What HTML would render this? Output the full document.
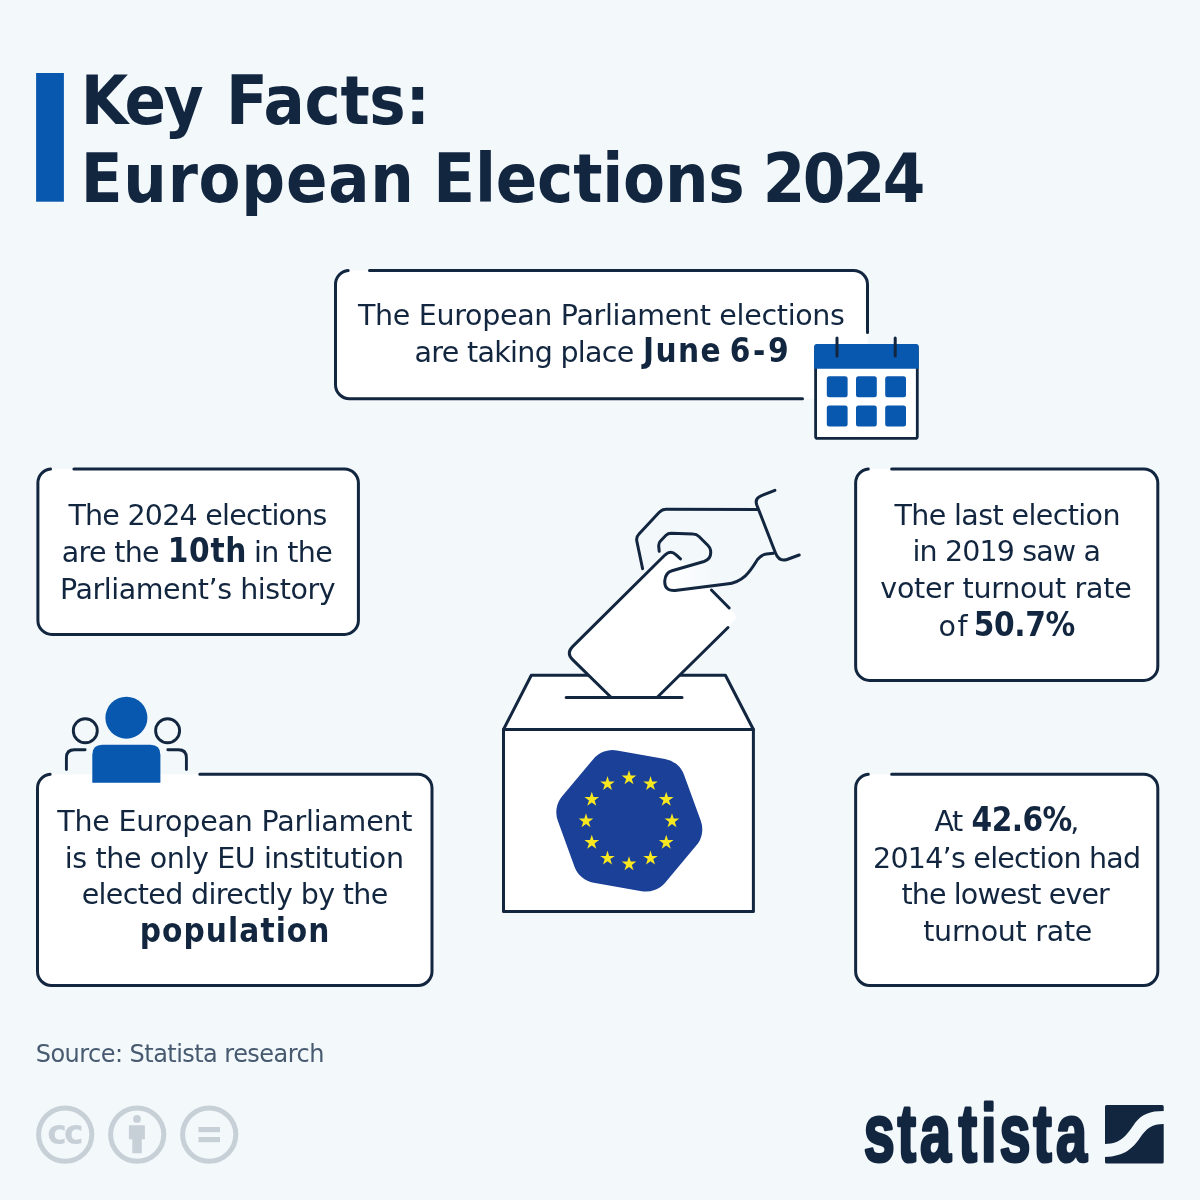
<!DOCTYPE html>
<html lang="en"><head><meta charset="utf-8"><title>Key Facts: European Elections 2024</title>
<style>
html,body{margin:0;padding:0;background:#f3f8fb;}
body{width:1200px;height:1200px;overflow:hidden;position:relative;}
svg{position:absolute;left:0;top:0;display:block;}
text{font-family:"DejaVu Sans","Liberation Sans",sans-serif;fill:#12263f;}
.kt,.kc,.kb{font-family:"DejaVu Sans Condensed","DejaVu Sans","Liberation Sans",sans-serif;font-weight:700;}
.ks{fill:#475a70;}
.box{fill:none;stroke:#12263f;stroke-width:3;stroke-linecap:round;}
.ln{fill:none;stroke:#12263f;stroke-width:3;stroke-linecap:round;stroke-linejoin:round;}
</style></head><body>
<svg width="1200" height="1200" viewBox="0 0 1200 1200">
<rect width="1200" height="1200" fill="#f3f8fb"/>

<rect x="36.1" y="73" width="27.8" height="128.7" fill="#0758ae"/>
<rect x="335.5" y="270.5" width="532.00" height="128.20" rx="14" fill="#fff"/>
<rect x="37.9" y="469.0" width="320.50" height="165.40" rx="14" fill="#fff"/>
<rect x="37.5" y="774.25" width="394.50" height="211.25" rx="14" fill="#fff"/>
<rect x="855.65" y="469.0" width="302.15" height="211.40" rx="14" fill="#fff"/>
<rect x="855.65" y="774.25" width="302.15" height="211.25" rx="14" fill="#fff"/>
<path class="box" d="M369.50,270.5 H853.50 A14,14 0 0 1 867.5,284.50 V332.4 M802.5,398.7 H349.50 A14,14 0 0 1 335.5,384.70 V284.50 A14,14 0 0 1 348.10,270.57"/>
<path class="box" d="M73.90,469.0 H344.40 A14,14 0 0 1 358.4,483.00 V620.40 A14,14 0 0 1 344.40,634.4 H51.90 A14,14 0 0 1 37.9,620.40 V483.00 A14,14 0 0 1 50.50,469.07"/>
<path class="box" d="M891.65,469.0 H1143.80 A14,14 0 0 1 1157.8,483.00 V666.40 A14,14 0 0 1 1143.80,680.4 H869.65 A14,14 0 0 1 855.65,666.40 V483.00 A14,14 0 0 1 868.25,469.07"/>
<path class="box" d="M891.65,774.25 H1143.80 A14,14 0 0 1 1157.8,788.25 V971.50 A14,14 0 0 1 1143.80,985.5 H869.65 A14,14 0 0 1 855.65,971.50 V788.25 A14,14 0 0 1 868.25,774.32"/>
<path class="box" d="M199.80,774.25 H418.00 A14,14 0 0 1 432.0,788.25 V971.50 A14,14 0 0 1 418.00,985.5 H51.50 A14,14 0 0 1 37.5,971.50 V788.25 A14,14 0 0 1 50.10,774.32"/>
<g>
<rect x="815.6" y="346" width="101.7" height="92.4" rx="2" fill="#fff" stroke="#12263f" stroke-width="2.8"/>
<path d="M814.2,368.8 V346.5 Q814.2,344 816.7,344 H916.2 Q918.7,344 918.7,346.5 V368.8 Z" fill="#0758ae"/>
<path class="ln" d="M837,338 V356 M895.2,338 V356"/>
<g fill="#0758ae">
<rect x="826.8" y="376.2" width="20.8" height="21" rx="2.5"/><rect x="856" y="376.2" width="20.8" height="21" rx="2.5"/><rect x="885.2" y="376.2" width="20.8" height="21" rx="2.5"/>
<rect x="826.8" y="405.6" width="20.8" height="21" rx="2.5"/><rect x="856" y="405.6" width="20.8" height="21" rx="2.5"/><rect x="885.2" y="405.6" width="20.8" height="21" rx="2.5"/>
</g></g>
<g>
<circle cx="126.4" cy="717.7" r="21" fill="#0758ae"/>
<path d="M92.3,782.8 V754.7 Q92.3,744.7 102.3,744.7 H150.4 Q160.4,744.7 160.4,754.7 V782.8 Z" fill="#0758ae"/>
<g class="ln" style="stroke-width:2.9">
<circle cx="85.3" cy="730.7" r="12"/>
<circle cx="167.6" cy="730.7" r="12"/>
<path d="M85.1,749.8 H74.4 Q66.4,749.8 66.4,757.8 V769.5"/>
<path d="M167.8,749.8 H178.4 Q186.4,749.8 186.4,757.8 V769.5"/>
</g></g>
<g>
<path d="M503.5,729.5 L531.3,675.2 H725.4 L753.4,729.5 Z" class="ln" style="fill:#fff"/>
<rect x="503.5" y="729.5" width="249.9" height="182" class="ln" style="fill:#fff"/>
<path d="M657.3,697.5 L728.5,627 L737,617.5 L729.5,608 L676,554.5 Q670.6,549.8 665.2,554.8 L572.8,646.3 Q565.9,652.9 572.6,659.6 L611,697.5 Z" fill="#fff"/>
<path class="ln" d="M566.2,697.6 H682"/>
<path class="ln" d="M611,697.3 L572.6,659.6 Q565.9,652.9 572.8,646.3 L665.2,554.8 Q670.6,549.8 676.1,554.8 L680.5,558.9"/>
<path class="ln" d="M657.3,697.3 L728,627.5"/>
<path class="ln" d="M711.4,590 L729.2,608"/>

<linearGradient id="tg" gradientUnits="userSpaceOnUse" x1="668" y1="0" x2="715" y2="0"><stop offset="0" stop-color="#fff"/><stop offset="1" stop-color="#f3f8fb"/></linearGradient>
<path fill="url(#tg)" d="M672,570.7 L704,561.5 L740,556 L747,572 C742,581 735,583.5 726.5,584 L675,590.5 Q664,591 664.8,580.5 Q665.5,572.5 672,570.7 Z"/>
<path class="ln" d="M642.6,568.7 L636.8,541 Q636,537 639,534 L659,512.5 Q662,509.3 666,509.3 L757.5,509.5"/>
<path class="ln" d="M774.9,490.3 L761,495.8 Q754.8,498.5 756.6,504.5 L775.5,553 Q779,562 787,559.5 L799.2,555"/>
<path class="ln" d="M773.5,553.2 L766.5,554 Q761.5,554.5 757.5,559.5 C752,568 745,582.5 726.5,584 L675,590.5 Q664,591 664.8,580.5 Q665.5,572.5 672,570.7 L704,561.5 Q712,559 710.5,550 Q710,547.5 708,545.5 L699,536.5 Q696.5,534 693,534 L671,533.3 Q668,533.3 666,535.3 L660.5,541 Q658.5,543 658.7,546 L659.2,551.3"/>
</g>
<polygon points="677.3,829.3 646.0,866.6 598.0,858.1 581.3,812.3 612.6,775.0 660.6,783.5" fill="#1b4097" stroke="#1b4097" stroke-width="50" stroke-linejoin="round"/>
<g fill="#f9e81f"><polygon points="629.0,770.3 630.7,775.6 636.3,775.6 631.8,778.9 633.5,784.2 629.0,780.9 624.5,784.2 626.2,778.9 621.7,775.6 627.3,775.6"/><polygon points="650.5,776.1 652.2,781.4 657.8,781.4 653.3,784.7 655.0,790.0 650.5,786.7 646.0,790.0 647.7,784.7 643.2,781.4 648.8,781.4"/><polygon points="666.2,791.8 668.0,797.1 673.6,797.1 669.0,800.4 670.8,805.7 666.2,802.4 661.7,805.7 663.4,800.4 658.9,797.1 664.5,797.1"/><polygon points="672.0,813.3 673.7,818.6 679.3,818.6 674.8,821.9 676.5,827.2 672.0,823.9 667.5,827.2 669.2,821.9 664.7,818.6 670.3,818.6"/><polygon points="666.2,834.8 668.0,840.1 673.6,840.1 669.0,843.4 670.8,848.7 666.2,845.4 661.7,848.7 663.4,843.4 658.9,840.1 664.5,840.1"/><polygon points="650.5,850.5 652.2,855.9 657.8,855.9 653.3,859.1 655.0,864.5 650.5,861.2 646.0,864.5 647.7,859.1 643.2,855.9 648.8,855.9"/><polygon points="629.0,856.3 630.7,861.6 636.3,861.6 631.8,864.9 633.5,870.2 629.0,866.9 624.5,870.2 626.2,864.9 621.7,861.6 627.3,861.6"/><polygon points="607.5,850.5 609.2,855.9 614.8,855.9 610.3,859.1 612.0,864.5 607.5,861.2 603.0,864.5 604.7,859.1 600.2,855.9 605.8,855.9"/><polygon points="591.8,834.8 593.5,840.1 599.1,840.1 594.6,843.4 596.3,848.7 591.8,845.4 587.2,848.7 589.0,843.4 584.4,840.1 590.0,840.1"/><polygon points="586.0,813.3 587.7,818.6 593.3,818.6 588.8,821.9 590.5,827.2 586.0,823.9 581.5,827.2 583.2,821.9 578.7,818.6 584.3,818.6"/><polygon points="591.8,791.8 593.5,797.1 599.1,797.1 594.6,800.4 596.3,805.7 591.8,802.4 587.2,805.7 589.0,800.4 584.4,797.1 590.0,797.1"/><polygon points="607.5,776.1 609.2,781.4 614.8,781.4 610.3,784.7 612.0,790.0 607.5,786.7 603.0,790.0 604.7,784.7 600.2,781.4 605.8,781.4"/></g>
<text y="123.5"><tspan class="kt" x="80.80" style="font-size:68px;letter-spacing:-2.400px;">Key</tspan> <tspan class="kt" x="225.90" style="font-size:68px;letter-spacing:-0.280px;">Facts:</tspan></text>
<text y="201.7"><tspan class="kt" x="80.80" style="font-size:68px;letter-spacing:0.743px;">European</tspan> <tspan class="kt" x="433.30" style="font-size:68px;letter-spacing:-0.163px;">Elections</tspan> <tspan class="kt" x="762.80" style="font-size:68px;letter-spacing:-2.600px;">2024</tspan></text>
<text y="325.3"><tspan class="kr" x="358.00" style="font-size:28.5px;letter-spacing:-0.312px;">The European Parliament elections</tspan></text>
<text y="362.2"><tspan class="kr" x="414.60" style="font-size:28.5px;letter-spacing:-0.690px;">are taking place</tspan> <tspan class="kb" x="643.00" style="font-size:33px;letter-spacing:1.400px;">June</tspan> <tspan class="kb" x="729.80" style="font-size:33px;letter-spacing:2.600px;">6-9</tspan></text>
<text y="524.8"><tspan class="kr" x="68.40" style="font-size:28.5px;letter-spacing:-0.747px;">The 2024 elections</tspan></text>
<text y="561.8"><tspan class="kr" x="61.80" style="font-size:28.5px;letter-spacing:-0.683px;">are the</tspan> <tspan class="kb" x="167.70" style="font-size:33px;letter-spacing:0.700px;">10th</tspan> <tspan class="kr" x="254.00" style="font-size:28.5px;letter-spacing:-0.600px;">in the</tspan></text>
<text y="598.8"><tspan class="kr" x="60.00" style="font-size:28.5px;letter-spacing:-0.437px;">Parliament’s history</tspan></text>
<text y="830.6"><tspan class="kr" x="57.30" style="font-size:28.5px;letter-spacing:-0.209px;">The European Parliament</tspan></text>
<text y="867.5"><tspan class="kr" x="64.80" style="font-size:28.5px;letter-spacing:-0.380px;">is the only EU institution</tspan></text>
<text y="904.4"><tspan class="kr" x="81.70" style="font-size:28.5px;letter-spacing:-0.636px;">elected directly by the</tspan></text>
<text y="941.5"><tspan class="kb" x="139.80" style="font-size:33px;letter-spacing:1.056px;">population</tspan></text>
<text y="524.6"><tspan class="kr" x="894.40" style="font-size:28.5px;letter-spacing:-0.603px;">The last election</tspan></text>
<text y="561.4"><tspan class="kr" x="912.40" style="font-size:28.5px;letter-spacing:-0.846px;">in 2019 saw a</tspan></text>
<text y="598.3"><tspan class="kr" x="880.30" style="font-size:28.5px;letter-spacing:-0.268px;">voter turnout rate</tspan></text>
<text y="635.5"><tspan class="kr" x="938.60" style="font-size:28.5px;letter-spacing:1.400px;">of</tspan> <tspan class="kc" x="973.80" style="font-size:33px;letter-spacing:-0.387px;">50.7%</tspan></text>
<text y="830.7"><tspan class="kr" x="934.40" style="font-size:28.5px;letter-spacing:-1.400px;">At</tspan> <tspan class="kc" x="971.60" style="font-size:33px;letter-spacing:-0.588px;">42.6%</tspan><tspan class="kr" x="1070.20" style="font-size:28.5px;">,</tspan></text>
<text y="867.6"><tspan class="kr" x="873.00" style="font-size:28.5px;letter-spacing:-0.736px;">2014’s election had</tspan></text>
<text y="904.3"><tspan class="kr" x="901.60" style="font-size:28.5px;letter-spacing:-0.900px;">the lowest ever</tspan></text>
<text y="941.3"><tspan class="kr" x="923.20" style="font-size:28.5px;letter-spacing:-0.268px;">turnout rate</tspan></text>
<text y="1061.7"><tspan class="ks" x="35.80" style="font-size:24px;letter-spacing:-0.546px;">Source: Statista research</tspan></text>
<g fill="none" stroke="#c8d0d7" stroke-width="5">
<circle cx="65.2" cy="1134.6" r="26.6"/><circle cx="137.2" cy="1134.6" r="26.6"/><circle cx="209.2" cy="1134.6" r="26.6"/>
</g>
<g fill="#c8d0d7">
<rect x="198.5" y="1127" width="21.5" height="5.2"/><rect x="198.5" y="1137" width="21.5" height="5.2"/>
<circle cx="137" cy="1118.9" r="3.9"/>
<path d="M128.9,1126.2 Q128.9,1125.2 129.9,1125.2 H143.9 Q144.9,1125.2 144.9,1126.2 V1139.2 H141.8 V1153.2 H132.3 V1139.2 H128.9 Z"/>
</g>
<text x="47.3 63.9" y="1143.5" style="font-family:'DejaVu Sans','Liberation Sans',sans-serif;font-weight:700;font-size:33px;fill:#c8d0d7">cc</text>
<g transform="scale(0.68,1)"><text x="1270.15 1319.96 1353.07 1409.74 1442.84 1469.71 1519.37 1553.0" y="1161.2" style="font-family:'Liberation Sans',sans-serif;font-weight:700;font-size:82px;fill:#12263f;stroke:#12263f;stroke-width:3.2px;stroke-linejoin:round">statista</text></g>
<g fill="#12263f">
<path d="M1106.5,1105 H1162.2 Q1163.7,1105 1163.7,1106.5 V1111 C1150,1111 1142,1114 1135,1123 C1128,1133 1122,1144 1105,1144 V1106.5 Q1105,1105 1106.5,1105 Z"/>
<path d="M1163.7,1124 V1162 Q1163.7,1163.5 1162.2,1163.5 H1106.5 Q1105,1163.5 1105,1162 V1157.1 C1125,1156 1133,1148 1140,1137.7 C1147,1128 1152,1124 1163.7,1124 Z"/>
</g>
</svg></body></html>
